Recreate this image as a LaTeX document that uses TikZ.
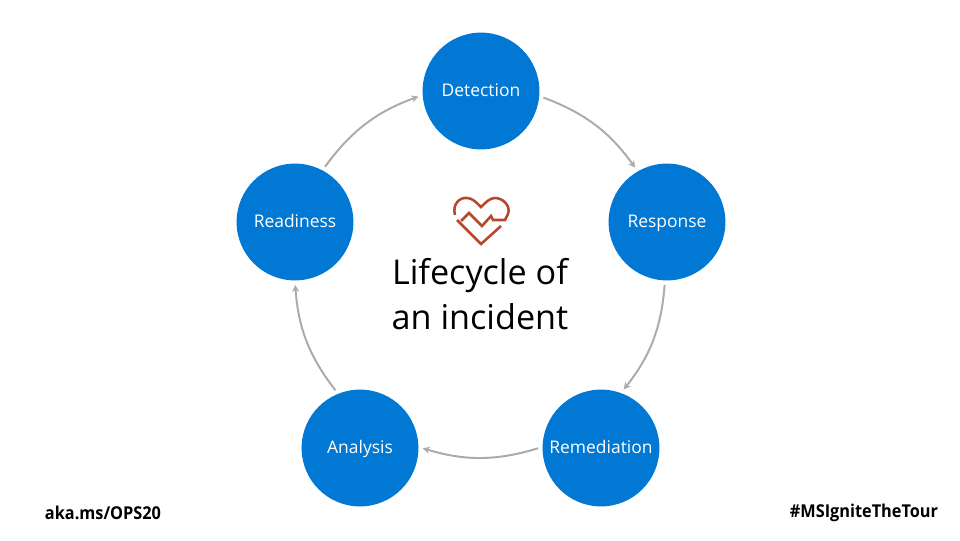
\documentclass[tikz,border=0pt]{standalone}
\usepackage{fontspec}
\setmainfont{Open Sans}
\usetikzlibrary{arrows.meta}
\definecolor{stageblue}{HTML}{0078D4}
\definecolor{ringgray}{HTML}{ABABAB}
\definecolor{heartred}{HTML}{B7472A}
\tikzset{
    stage/.style={circle, fill=stageblue, minimum size=2.92cm, inner sep=0pt, text=white, text height=0.85em, text depth=0pt, font=\fontsize{12.4}{15}\selectfont},
    ring/.style={draw=ringgray, line width=1.4pt, -{Stealth[length=5pt, width=5pt]}, bend left=17, shorten >=3pt, shorten <=3pt},
    tag/.style={font=\fontsize{12.6}{15}\selectfont\bfseries, text=black, xscale=0.92, transform shape},
    heart/.style={draw=heartred, line width=1.8pt}
}
\begin{document}
\begin{tikzpicture}[x=0.025cm, y=-0.025cm]
    \useasboundingbox (0, 0) rectangle (960, 540);
    \node[stage] (detection) at (481, 91) {Detection};
    \node[stage] (response) at (667, 222) {Response};
    \node[stage] (remediation) at (601, 448) {Remediation};
    \node[stage] (analysis) at (360, 448) {Analysis};
    \node[stage] (readiness) at (295, 222) {Readiness};
    \draw[ring] (detection.-5) to (response.120);
    \draw[ring] (response.-92) to (remediation.70);
    \draw[ring] (remediation.179) to (analysis.1);
    \draw[ring] (analysis.112) to (readiness.270);
    \draw[ring] (readiness.62) to (detection.184);
    \draw[heart]
        (455, 215) .. controls (452, 204) and (460, 197) .. (467, 198)
        .. controls (472, 198) and (476, 202) .. (481, 207)
        .. controls (486, 202) and (490, 198) .. (495, 198)
        .. controls (503, 198) and (511, 206) .. (508, 214)
        -- (505, 220) -- (493, 220) -- (491, 216) -- (482, 226) -- (469, 213) -- (461, 221)
    ;
    \draw[heart] (457, 220) -- (481, 244) -- (501, 226);
    \node[font=\fontsize{24.3}{31.5}\selectfont, align=center, text=black] (title) at (480, 294) {Lifecycle of\\an incident};
    \node[tag] (shortlink) at (103, 513) {aka.ms/OPS20};
    \node[tag] (hashtag) at (864, 513) {\#MSIgniteTheTour};
\end{tikzpicture}
\end{document}
